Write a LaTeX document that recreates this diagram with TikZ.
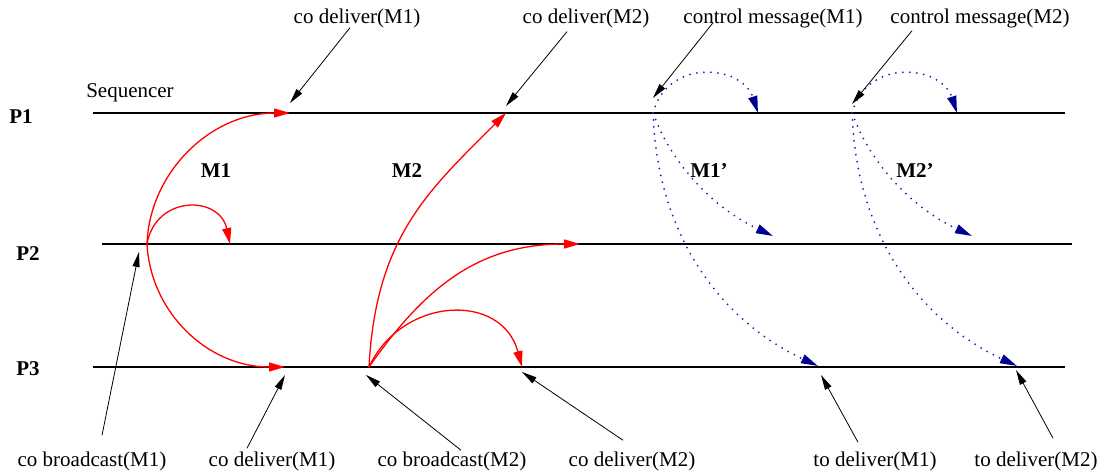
\documentclass[tikz,border=0pt]{standalone}
\usepackage{fontspec}
\setmainfont{Liberation Serif}
\usepackage{tikz}
\usetikzlibrary{arrows.meta}
\definecolor{mred}{HTML}{FF0000}
\definecolor{dotblue}{HTML}{1C1CB8}
\definecolor{headblue}{HTML}{000090}

\begin{document}
\begin{tikzpicture}[x=1pt,y=-1pt,font=\fontsize{21}{25}\selectfont,
  proc/.style={line width=1.5pt,black},
  msg/.style={line width=1.3pt,mred,-{Triangle[length=16pt,width=9pt]}},
  ctrl/.style={line width=2pt,dotblue,line cap=round,dash pattern=on 0pt off 7pt,
               -{Triangle[length=17pt,width=9pt,color=headblue]}},
  callout/.style={line width=0.8pt,-{Triangle[length=15pt,width=7pt]}},
  lbl/.style={inner sep=0pt,anchor=base},
  pname/.style={lbl,font=\fontsize{21}{25}\selectfont\bfseries}]
  \useasboundingbox (0,0) rectangle (1106,474);
  % ---- processes ----
  \node[pname] (P1) at (21,123) {P1};
  \node[pname] (P2) at (28,260) {P2};
  \node[pname] (P3) at (28,375) {P3};
  \node[lbl] (seq) at (130,97) {Sequencer};
  \coordinate (p1l) at (93,113);  \coordinate (p1r) at (1065,113);
  \coordinate (p2l) at (102,244); \coordinate (p2r) at (1072,244);
  \coordinate (p3l) at (93,367);  \coordinate (p3r) at (1065,367);
  \draw[proc] (p1l) -- (p1r);
  \draw[proc] (p2l) -- (p2r);
  \draw[proc] (p3l) -- (p3r);
  % ---- event points ----
  \coordinate (s1) at (147,244); \coordinate (d1) at (290,113);
  \coordinate (e1) at (230,244); \coordinate (f1) at (285,367);
  \coordinate (s2) at (369,367); \coordinate (d2) at (506,113);
  \coordinate (e2) at (580,244); \coordinate (f2) at (522,367);
  \coordinate (c1) at (653,113); \coordinate (c1a) at (758,113);
  \coordinate (c1b) at (773,236); \coordinate (c1c) at (818,366);
  \coordinate (c2) at (852,113); \coordinate (c2a) at (957,113);
  \coordinate (c2b) at (972,236); \coordinate (c2c) at (1017,366);
  % ---- M1 and M2 (red) ----
  \draw[msg] (s1) .. controls +(88:72pt) and +(180:79pt) .. (d1);
  \draw[msg] (s1) .. controls +(80:50pt) and +(102:50pt) .. (e1);
  \draw[msg] (s1) .. controls +(-87:68pt) and +(180:78pt) .. (f1);
  \draw[msg] (s2) .. controls +(87:130pt) and +(225:110pt) .. (d2);
  \draw[msg] (s2) .. controls +(55:100pt) and +(180:100pt) .. (e2);
  \draw[msg] (s2) .. controls +(65:78pt) and +(105:78pt) .. (f2);
  \node[pname] (m1) at (216,177) {M1};
  \node[pname] (m2) at (407,177) {M2};
  % ---- control messages (blue, dotted) ----
  \draw[ctrl] (c1) .. controls +(75:58pt) and +(108:50pt) .. (c1a);
  \draw[ctrl] (c1) .. controls +(-70:60pt) and +(155:60pt) .. (c1b);
  \draw[ctrl] (c1) .. controls +(-88:130pt) and +(155:100pt) .. (c1c);
  \draw[ctrl] (c2) .. controls +(75:58pt) and +(108:50pt) .. (c2a);
  \draw[ctrl] (c2) .. controls +(-70:60pt) and +(155:60pt) .. (c2b);
  \draw[ctrl] (c2) .. controls +(-88:130pt) and +(155:100pt) .. (c2c);
  \node[pname] (m1c) at (709,177) {M1'};
  \node[pname] (m2c) at (915,177) {M2'};
  % ---- top labels ----
  \node[lbl] (cdA) at (357,23) {co deliver(M1)};
  \node[lbl] (cdB) at (586,23) {co deliver(M2)};
  \node[lbl] (cmA) at (773,23) {control message(M1)};
  \node[lbl] (cmB) at (980,23) {control message(M2)};
  \draw[callout] ([xshift=-7pt]cdA.south) -- ([yshift=10pt]d1);
  \draw[callout] ([xshift=-19pt,yshift=-4pt]cdB.south) -- ([yshift=7pt]d2);
  \draw[callout] ([xshift=-60pt,yshift=5pt]cmA.south) -- ([yshift=15pt]c1);
  \draw[callout] ([xshift=-68pt,yshift=-3pt]cmB.south) -- ([yshift=9pt]c2);
  % ---- bottom labels ----
  \node[lbl] (cbA) at (92,466) {co broadcast(M1)};
  \node[lbl] (cdC) at (272,466) {co deliver(M1)};
  \node[lbl] (cbB) at (452,466) {co broadcast(M2)};
  \node[lbl] (cdD) at (632,466) {co deliver(M2)};
  \node[lbl] (tdA) at (875,466) {to deliver(M1)};
  \node[lbl] (tdB) at (1036,466) {to deliver(M2)};
  \draw[callout] ([xshift=10pt,yshift=16pt]cbA.north) -- ([xshift=-8pt,yshift=-8pt]s1);
  \draw[callout] ([xshift=-25pt,yshift=3pt]cdC.north) -- ([yshift=-8pt]f1);
  \draw[callout] ([xshift=9pt,yshift=1pt]cbB.north) -- ([xshift=-3pt,yshift=-8pt]s2);
  \draw[callout] ([xshift=-9pt,yshift=11pt]cdD.north) -- ([yshift=-5pt]f2);
  \draw[callout] ([xshift=-17pt,yshift=9pt]tdA.north) -- ([xshift=3pt,yshift=-9pt]c1c);
  \draw[callout] ([xshift=17pt,yshift=13pt]tdB.north) -- ([xshift=-1pt,yshift=-4pt]c2c);
\end{tikzpicture}
\end{document}
